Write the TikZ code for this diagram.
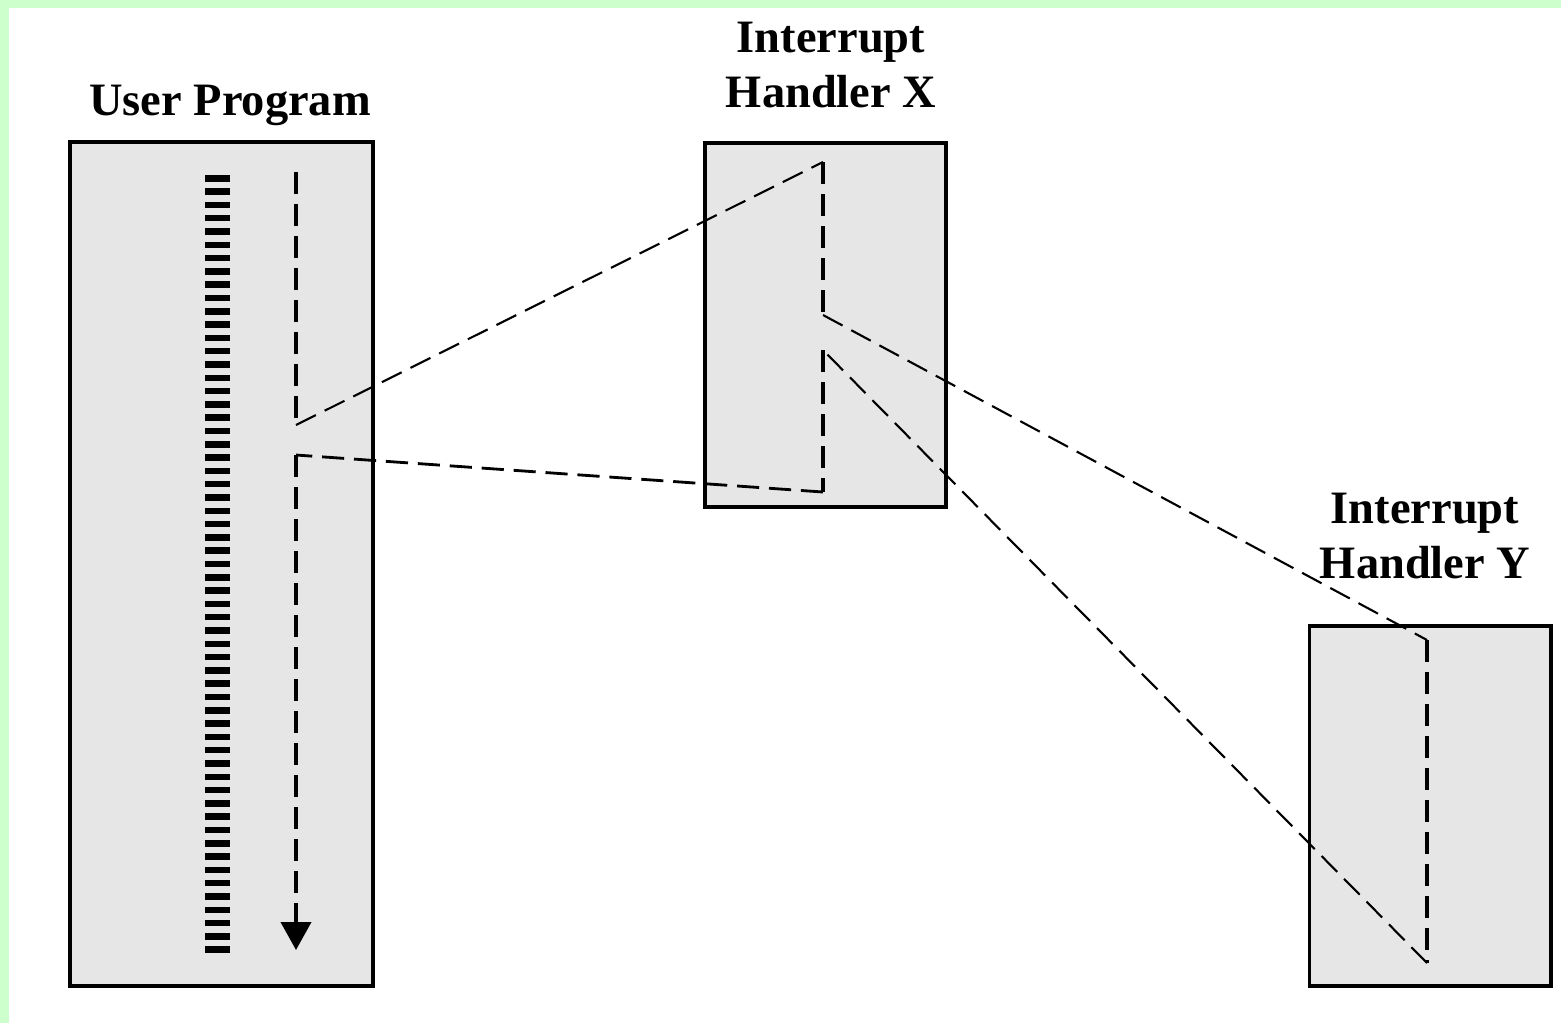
\documentclass[tikz,border=0pt]{standalone}
\usepackage{fontspec}
\setmainfont{Liberation Serif}
\usetikzlibrary{arrows.meta}

\definecolor{mint}{RGB}{204,255,204}
\definecolor{boxgray}{RGB}{230,230,230}

\tikzset{
  prog/.style={draw=black, line width=1.1pt, fill=boxgray, inner sep=0pt},
  title/.style={font=\fontsize{13.2}{15.6}\selectfont\bfseries, align=center, inner sep=0pt},
  flow/.style={line width=1.1pt, dash pattern=on 6.3pt off 2.8pt},
  jump/.style={line width=0.6pt, dash pattern=on 6.3pt off 2.8pt},
}

\begin{document}
\begin{tikzpicture}[x=0.01cm, y=-0.01cm]
  \useasboundingbox (0,0) rectangle (1561,1023);
  \fill[mint] (0,0) rectangle (1561,1023);
  \fill[white] (9,8) rectangle (1561,1023);

  % program boxes
  \begin{scope}[every node/.style={prog}]
    \node (U) at (221.5,564) [minimum width=3.03cm, minimum height=8.44cm] {};
    \node (X) at (825.5,325) [minimum width=2.41cm, minimum height=3.64cm] {};
    \node (Y) at (1430,806) [minimum width=2.41cm, minimum height=3.6cm] {};
  \end{scope}

  % titles
  \node[title, anchor=base] (Ut) at (230,115) {User Program};
  \node[title, anchor=base] (Xt) at (831,107) {Interrupt\\Handler X};
  \node[title, anchor=base] (Yt) at (1425,578) {Interrupt\\Handler Y};

  % instructions of the user program
  \foreach \i in {0,...,58}
    \fill (205,175+13.3*\i) rectangle (230,181.5+13.3*\i);

  % flow of control
  \coordinate (u1) at (296,172);
  \coordinate (u2) at (296,425);
  \coordinate (u3) at (296,455);
  \coordinate (u4) at (296,950);
  \coordinate (x1) at (823,162);
  \coordinate (x2) at (823,315);
  \coordinate (x3) at (823,350);
  \coordinate (x4) at (823,492);
  \coordinate (y1) at (1427,640);
  \coordinate (y2) at (1427,963);

  \draw[flow] (u1) -- (u2);
  \draw[jump] (u2) -- (x1);
  \draw[flow] (x1) -- (x2);
  \draw[jump] (x2) -- (y1);
  \draw[flow] (y1) -- (y2);
  \draw[jump] (y2) -- (x3);
  \draw[flow] (x3) -- (x4);
  \draw[flow, line width=0.8pt] (x4) -- (u3);
  \draw[flow, -{Triangle[width=0.3cm, length=0.28cm]}] (u3) -- (u4);
\end{tikzpicture}
\end{document}
